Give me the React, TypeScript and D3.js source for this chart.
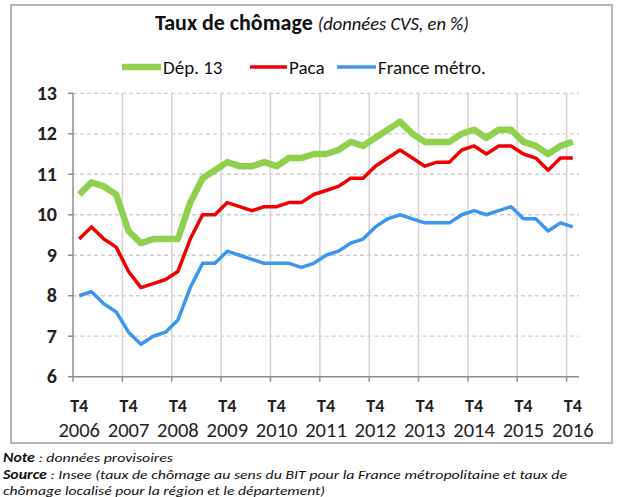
import React, { useEffect, useRef } from 'react';
import * as d3 from 'd3';

const quarters = [
  'T4 2006', 'T1 2007', 'T2 2007', 'T3 2007', 'T4 2007', 'T1 2008', 'T2 2008', 'T3 2008', 'T4 2008',
  'T1 2009', 'T2 2009', 'T3 2009', 'T4 2009', 'T1 2010', 'T2 2010', 'T3 2010', 'T4 2010',
  'T1 2011', 'T2 2011', 'T3 2011', 'T4 2011', 'T1 2012', 'T2 2012', 'T3 2012', 'T4 2012',
  'T1 2013', 'T2 2013', 'T3 2013', 'T4 2013', 'T1 2014', 'T2 2014', 'T3 2014', 'T4 2014',
  'T1 2015', 'T2 2015', 'T3 2015', 'T4 2015', 'T1 2016', 'T2 2016', 'T3 2016', 'T4 2016',
];

const dep13 = [
  10.5, 10.8, 10.7, 10.5, 9.6, 9.3, 9.4, 9.4, 9.4,
  10.3, 10.9, 11.1, 11.3, 11.2, 11.2, 11.3, 11.2,
  11.4, 11.4, 11.5, 11.5, 11.6, 11.8, 11.7, 11.9,
  12.1, 12.3, 12.0, 11.8, 11.8, 11.8, 12.0, 12.1,
  11.9, 12.1, 12.1, 11.8, 11.7, 11.5, 11.7, 11.8,
];

const paca = [
  9.4, 9.7, 9.4, 9.2, 8.6, 8.2, 8.3, 8.4, 8.6,
  9.4, 10.0, 10.0, 10.3, 10.2, 10.1, 10.2, 10.2,
  10.3, 10.3, 10.5, 10.6, 10.7, 10.9, 10.9, 11.2,
  11.4, 11.6, 11.4, 11.2, 11.3, 11.3, 11.6, 11.7,
  11.5, 11.7, 11.7, 11.5, 11.4, 11.1, 11.4, 11.4,
];

const franceMetro = [
  8.0, 8.1, 7.8, 7.6, 7.1, 6.8, 7.0, 7.1, 7.4,
  8.2, 8.8, 8.8, 9.1, 9.0, 8.9, 8.8, 8.8,
  8.8, 8.7, 8.8, 9.0, 9.1, 9.3, 9.4, 9.7,
  9.9, 10.0, 9.9, 9.8, 9.8, 9.8, 10.0, 10.1,
  10.0, 10.1, 10.2, 9.9, 9.9, 9.6, 9.8, 9.7,
];

const yTicks = [6, 7, 8, 9, 10, 11, 12, 13];

const series = [
  { name: 'Dép. 13', values: dep13, color: '#8fd14f', width: 6.5 },
  { name: 'Paca', values: paca, color: '#f00000', width: 3.5 },
  { name: 'France métro.', values: franceMetro, color: '#3c96f0', width: 3.5 },
];

const font = 'Carlito, Calibri, "Liberation Sans", Arial, sans-serif';

function App() {
  const svgRef = useRef<SVGSVGElement>(null);

  useEffect(() => {
    const width = 617;
    const height = 497;
    const svg = d3.select(svgRef.current).attr('width', width).attr('height', height);
    svg.selectAll('*').remove();

    const x = d3.scaleBand<string>().domain(quarters).range([73, 579]).paddingInner(0).paddingOuter(0);
    const y = d3.scaleLinear().domain([6, 13]).range([376.7, 93.3]);
    const cx = (q: string) => (x(q) as number) + x.bandwidth() / 2;

    svg.append('rect').attr('width', width).attr('height', height).attr('fill', '#fff');

    // frame
    svg.append('rect')
      .attr('x', 11).attr('y', 5).attr('width', 601).attr('height', 438)
      .attr('fill', 'none').attr('stroke', '#b4b4b4').attr('stroke-width', 2);

    // title
    const title = svg.append('text')
      .attr('x', 312).attr('y', 30)
      .attr('text-anchor', 'middle')
      .style('font-family', font)
      .attr('fill', '#111');
    title.append('tspan').attr('font-weight', 'bold').attr('font-size', 22).text('Taux de chômage ');
    title.append('tspan').attr('font-style', 'italic').attr('font-size', 18.5).text('(données CVS, en %)');

    // legend
    const legendPos = [
      { x1: 122, x2: 161 },
      { x1: 250, x2: 287 },
      { x1: 337, x2: 376 },
    ];
    series.forEach((s, i) => {
      const p = legendPos[i];
      svg.append('line')
        .attr('x1', p.x1).attr('x2', p.x2).attr('y1', 67).attr('y2', 67)
        .attr('stroke', s.color).attr('stroke-width', s.width);
      svg.append('text')
        .attr('x', p.x2 + 2).attr('y', 74)
        .style('font-family', font).attr('font-size', 19).attr('fill', '#111')
        .text(s.name);
    });

    // horizontal dashed grid
    svg.append('g')
      .selectAll('line')
      .data(yTicks.filter((t) => t > 6))
      .enter()
      .append('line')
      .attr('x1', 73).attr('x2', 579)
      .attr('y1', (d) => y(d)).attr('y2', (d) => y(d))
      .attr('stroke', '#cfcfcf').attr('stroke-width', 1.3).attr('stroke-dasharray', '4,3');

    // vertical grid at year boundaries
    const yearQuarters = quarters.filter((q) => q.startsWith('T4'));
    svg.append('g')
      .selectAll('line')
      .data(yearQuarters.slice(1))
      .enter()
      .append('line')
      .attr('x1', (d) => x(d) as number).attr('x2', (d) => x(d) as number)
      .attr('y1', y(13)).attr('y2', y(6))
      .attr('stroke', '#d4d4d4').attr('stroke-width', 1.5);

    // axes
    svg.append('line')
      .attr('x1', 73).attr('x2', 73).attr('y1', y(13)).attr('y2', y(6))
      .attr('stroke', '#8c8c8c').attr('stroke-width', 1.5);
    svg.append('line')
      .attr('x1', 73).attr('x2', 579).attr('y1', y(6)).attr('y2', y(6))
      .attr('stroke', '#8c8c8c').attr('stroke-width', 1.5);

    svg.append('g')
      .selectAll('line')
      .data(yTicks)
      .enter()
      .append('line')
      .attr('x1', 68).attr('x2', 73)
      .attr('y1', (d) => y(d)).attr('y2', (d) => y(d))
      .attr('stroke', '#8c8c8c').attr('stroke-width', 1.5);

    svg.append('g')
      .selectAll('line')
      .data(yearQuarters)
      .enter()
      .append('line')
      .attr('x1', (d) => x(d) as number).attr('x2', (d) => x(d) as number)
      .attr('y1', y(6)).attr('y2', y(6) + 5)
      .attr('stroke', '#8c8c8c').attr('stroke-width', 1.5);

    // y labels
    svg.append('g')
      .selectAll('text')
      .data(yTicks)
      .enter()
      .append('text')
      .attr('x', 57).attr('y', (d) => y(d) + 6.5)
      .attr('text-anchor', 'end')
      .style('font-family', font).attr('font-size', 20).attr('font-weight', 'bold').attr('fill', '#222')
      .text((d) => d);

    // x labels
    const xl = svg.append('g')
      .selectAll('g')
      .data(yearQuarters)
      .enter()
      .append('g')
      .attr('transform', (d) => `translate(${cx(d)},0)`);
    xl.append('text')
      .attr('y', 412).attr('text-anchor', 'middle')
      .style('font-family', font).attr('font-size', 18).attr('font-weight', 'bold').attr('fill', '#222')
      .text((d) => d.split(' ')[0]);
    xl.append('text')
      .attr('y', 437).attr('text-anchor', 'middle')
      .style('font-family', font).attr('font-size', 20.5).attr('fill', '#222')
      .text((d) => d.split(' ')[1]);

    // lines
    series.forEach((s) => {
      const line = d3.line<number>()
        .x((_, i) => cx(quarters[i]))
        .y((d) => y(d));
      svg.append('path')
        .datum(s.values)
        .attr('d', line)
        .attr('fill', 'none')
        .attr('stroke', s.color)
        .attr('stroke-width', s.width)
        .attr('stroke-linejoin', 'round');
    });

    // footer
    const note = svg.append('text')
      .attr('x', 3).attr('y', 462)
      .style('font-family', font).attr('font-size', 13).attr('font-style', 'italic').attr('fill', '#111')
      .attr('textLength', 170).attr('lengthAdjust', 'spacingAndGlyphs');
    note.append('tspan').attr('font-weight', 'bold').text('Note');
    note.append('tspan').text(' : données provisoires');

    const src = svg.append('text')
      .attr('x', 3).attr('y', 479)
      .style('font-family', font).attr('font-size', 13).attr('font-style', 'italic').attr('fill', '#111')
      .attr('textLength', 564).attr('lengthAdjust', 'spacingAndGlyphs');
    src.append('tspan').attr('font-weight', 'bold').text('Source');
    src.append('tspan').text(' : Insee (taux de chômage au sens du BIT pour la France métropolitaine et taux de');

    svg.append('text')
      .attr('x', 3).attr('y', 495)
      .style('font-family', font).attr('font-size', 13).attr('font-style', 'italic').attr('fill', '#111')
      .attr('textLength', 322).attr('lengthAdjust', 'spacingAndGlyphs')
      .text('chômage localisé pour la région et le département)');
  }, []);

  return (
    <svg ref={svgRef} style={{ position: 'absolute', left: 0, top: 0, display: 'block' }}></svg>
  );
}

export default App;
